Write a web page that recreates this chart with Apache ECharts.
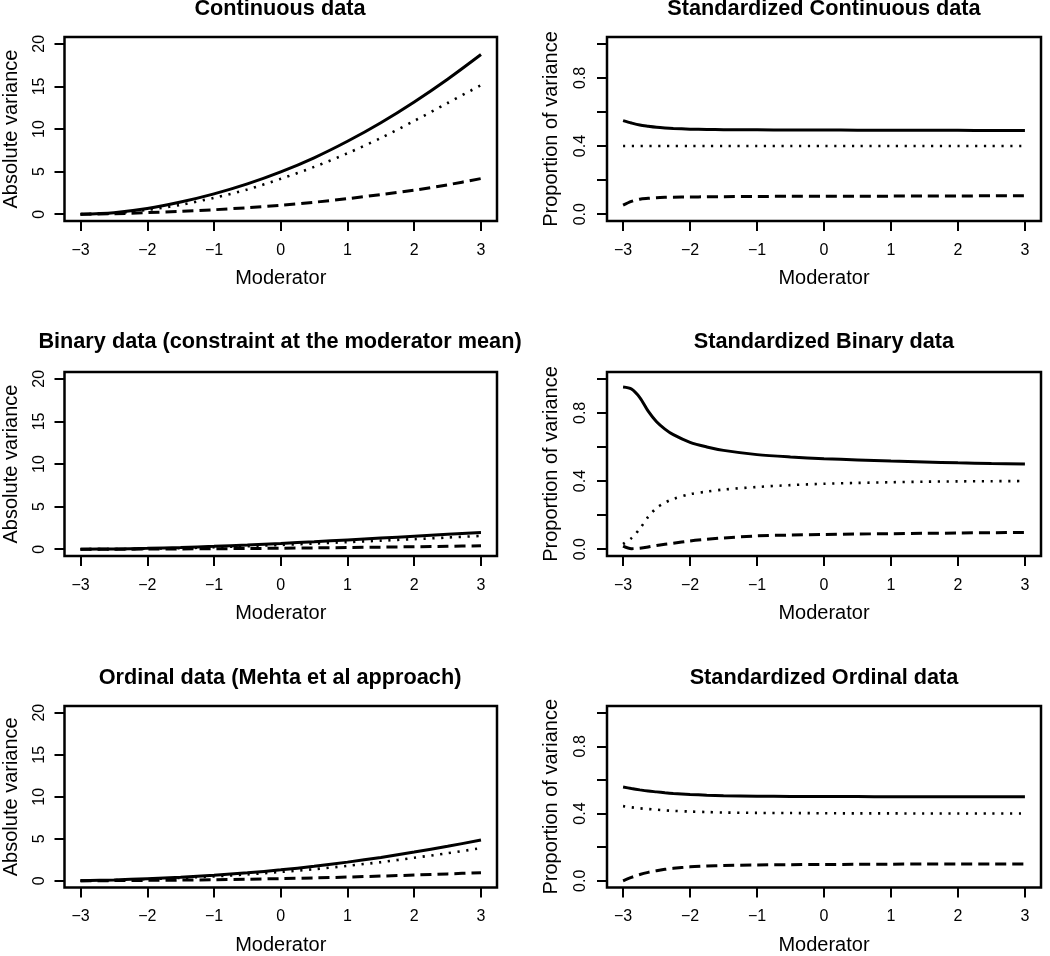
<!DOCTYPE html>
<html>
<head>
<meta charset="utf-8">
<script src="https://cdn.jsdelivr.net/npm/echarts@6/dist/echarts.min.js"></script>
<style>
html,body{margin:0;padding:0;background:#fff;}
#chart{width:1050px;height:956px;}
</style>
</head>
<body>
<div id="chart"></div>
<script>
// ---------- data ----------
const moderator = [-3, -2.5, -2, -1.5, -1, -0.5, 0, 0.5, 1, 1.5, 2, 2.5, 3];
const stdModerator = [-3, -2.875, -2.75, -2.625, -2.5, -2.375, -2.25, -2, -1.75, -1.5, -1, -0.5, 0, 0.5, 1, 1.5, 2, 2.5, 3];

const xTicks = [-3, -2, -1, 0, 1, 2, 3];
const absTicks = [0, 5, 10, 15, 20];
const absLabels = [0, 5, 10, 15, 20];
const propTicks = [0, 0.2, 0.4, 0.6, 0.8, 1.0];
const propLabels = [0, 0.4, 0.8];

const panelTitles = [
  'Continuous data', 'Standardized Continuous data',
  'Binary data (constraint at the moderator mean)', 'Standardized Binary data',
  'Ordinal data (Mehta et al approach)', 'Standardized Ordinal data'
];
const xTitle = 'Moderator';
const absTitle = 'Absolute variance';
const propTitle = 'Proportion of variance';

// Continuous (absolute)
const contSolid  = [0, 0.18, 0.66, 1.42, 2.38, 3.55, 4.96, 6.62, 8.56, 10.74, 13.18, 15.85, 18.75];
const contDotted = [0, 0.12, 0.5, 1.1, 1.92, 2.9, 4.15, 5.55, 7.15, 8.95, 10.95, 13.05, 15.15];
const contDashed = [0, 0.05, 0.18, 0.33, 0.52, 0.76, 1.05, 1.4, 1.82, 2.3, 2.82, 3.45, 4.18];

// Standardized continuous
const stdContSolid  = [0.549, 0.535, 0.523, 0.516, 0.51, 0.506, 0.503, 0.499, 0.497, 0.496, 0.495, 0.494, 0.494, 0.493, 0.493, 0.492, 0.492, 0.491, 0.491];
const stdContDotted = [0.4, 0.4, 0.4, 0.4, 0.4, 0.4, 0.4, 0.4, 0.4, 0.4, 0.4, 0.4, 0.4, 0.4, 0.4, 0.4, 0.4, 0.4, 0.4];
const stdContDashed = [0.053, 0.075, 0.088, 0.093, 0.097, 0.099, 0.1, 0.101, 0.102, 0.103, 0.104, 0.105, 0.105, 0.106, 0.106, 0.107, 0.107, 0.108, 0.108];

// Binary (absolute)
const binSolid  = [0, 0.03, 0.1, 0.2, 0.34, 0.5, 0.68, 0.88, 1.09, 1.3, 1.52, 1.74, 1.96];
const binDotted = [0, 0.01, 0.05, 0.12, 0.22, 0.35, 0.5, 0.66, 0.83, 1.0, 1.18, 1.37, 1.56];
const binDashed = [0, 0, 0.01, 0.03, 0.05, 0.08, 0.11, 0.15, 0.19, 0.24, 0.29, 0.34, 0.4];

// Standardized binary
const stdBinSolid  = [0.952, 0.94, 0.89, 0.81, 0.748, 0.705, 0.672, 0.627, 0.6, 0.58, 0.555, 0.541, 0.531, 0.524, 0.517, 0.512, 0.507, 0.503, 0.5];
const stdBinDotted = [0.03, 0.065, 0.12, 0.19, 0.242, 0.273, 0.295, 0.323, 0.338, 0.35, 0.365, 0.376, 0.384, 0.389, 0.393, 0.396, 0.398, 0.399, 0.4];
const stdBinDashed = [0.018, 0.003, 0.006, 0.013, 0.022, 0.029, 0.035, 0.048, 0.058, 0.066, 0.078, 0.083, 0.086, 0.089, 0.091, 0.093, 0.095, 0.097, 0.098];

// Ordinal (absolute)
const ordSolid  = [0, 0.1, 0.25, 0.42, 0.65, 0.95, 1.3, 1.72, 2.22, 2.78, 3.42, 4.1, 4.85];
const ordDotted = [0, 0.08, 0.2, 0.34, 0.52, 0.76, 1.05, 1.38, 1.78, 2.22, 2.74, 3.28, 3.88];
const ordDashed = [0, 0.02, 0.05, 0.08, 0.13, 0.19, 0.26, 0.34, 0.44, 0.56, 0.68, 0.82, 0.97];

// Standardized ordinal
const stdOrdSolid  = [0.558, 0.549, 0.541, 0.534, 0.529, 0.524, 0.52, 0.514, 0.509, 0.506, 0.503, 0.502, 0.501, 0.501, 0.5, 0.5, 0.5, 0.5, 0.5];
const stdOrdDotted = [0.444, 0.437, 0.431, 0.427, 0.423, 0.419, 0.416, 0.412, 0.409, 0.406, 0.404, 0.403, 0.402, 0.401, 0.401, 0.4, 0.4, 0.4, 0.4];
const stdOrdDashed = [0, 0.02, 0.037, 0.05, 0.06, 0.068, 0.074, 0.083, 0.088, 0.091, 0.094, 0.096, 0.097, 0.098, 0.099, 0.1, 0.1, 0.1, 0.1];

// ---------- layout ----------
const FONT = '"Liberation Sans", Arial, Helvetica, sans-serif';
const gridLefts = [63, 607];
const gridTops = [37, 372, 706];
const gridW = 434, gridH = 184;
const titleY = [9, 342.5, 678];

const panels = [
  {x: moderator, s: contSolid, d: contDotted, k: contDashed, abs: true},
  {x: stdModerator, s: stdContSolid, d: stdContDotted, k: stdContDashed, abs: false},
  {x: moderator, s: binSolid, d: binDotted, k: binDashed, abs: true},
  {x: stdModerator, s: stdBinSolid, d: stdBinDotted, k: stdBinDashed, abs: false},
  {x: moderator, s: ordSolid, d: ordDotted, k: ordDashed, abs: true},
  {x: stdModerator, s: stdOrdSolid, d: stdOrdDotted, k: stdOrdDashed, abs: false}
];

const grids = [], xAxes = [], yAxes = [], series = [], graphics = [];
const minus = v => (v < 0 ? '\u2212' + (-v) : String(v));
const pair = (xs, ys) => xs.map((x, i) => [x, ys[i]]);

panels.forEach((p, i) => {
  const col = i % 2, row = Math.floor(i / 2);
  grids.push({
    left: gridLefts[col], top: gridTops[row], width: gridW, height: gridH,
    show: true, borderColor: '#000', borderWidth: 2.5, backgroundColor: 'transparent'
  });
  xAxes.push({
    type: 'value', gridIndex: i, min: -3.24, max: 3.24, position: 'bottom',
    name: xTitle, nameLocation: 'middle', nameGap: 47.5,
    nameTextStyle: {fontFamily: FONT, fontSize: 20, color: '#000'},
    axisLine: {show: false, onZero: false}, splitLine: {show: false},
    axisTick: {show: true, length: 10, customValues: xTicks, lineStyle: {color: '#000', width: 2}},
    axisLabel: {customValues: xTicks, margin: 21.5, fontFamily: FONT, fontSize: 16, color: '#000', formatter: minus}
  });
  const abs = p.abs;
  yAxes.push({
    type: 'value', gridIndex: i, position: 'left',
    min: abs ? -0.8 : -0.04, max: abs ? 20.8 : 1.04,
    name: abs ? absTitle : propTitle, nameLocation: 'middle', nameGap: abs ? 43.5 : 46,
    nameTextStyle: {fontFamily: FONT, fontSize: 20, color: '#000'},
    axisLine: {show: false, onZero: false}, splitLine: {show: false},
    axisTick: {show: true, length: 10, customValues: abs ? absTicks : propTicks, lineStyle: {color: '#000', width: 2}},
    axisLabel: {
      customValues: abs ? absLabels : propLabels, rotate: 90, margin: abs ? 16.7 : 18.2,
      fontFamily: FONT, fontSize: 16, color: '#000',
      formatter: v => abs ? String(v) : Number(v).toFixed(1)
    }
  });
  const base = {type: 'line', xAxisIndex: i, yAxisIndex: i, showSymbol: false, symbol: 'none', smooth: 0.3, silent: true, z: 3};
  series.push(Object.assign({}, base, {data: pair(p.x, p.s), lineStyle: {color: '#000', width: 3, type: 'solid'}}));
  series.push(Object.assign({}, base, {data: pair(p.x, p.d), lineStyle: {color: '#000', width: 2.6, type: [2.2, 6.6]}}));
  series.push(Object.assign({}, base, {data: pair(p.x, p.k), lineStyle: {color: '#000', width: 3, type: [11, 6]}}));

  graphics.push({
    type: 'text', x: gridLefts[col] + gridW / 2, y: titleY[row],
    style: {
      text: panelTitles[i], font: 'bold 21.7px ' + FONT, fill: '#000',
      textAlign: 'center', textVerticalAlign: 'middle', align: 'center', verticalAlign: 'middle'
    }
  });
});

const chart = echarts.init(document.getElementById('chart'), null, {renderer: 'canvas'});
chart.setOption({
  animation: false,
  backgroundColor: '#fff',
  grid: grids,
  xAxis: xAxes,
  yAxis: yAxes,
  series: series,
  graphic: graphics
});
</script>
</body>
</html>
